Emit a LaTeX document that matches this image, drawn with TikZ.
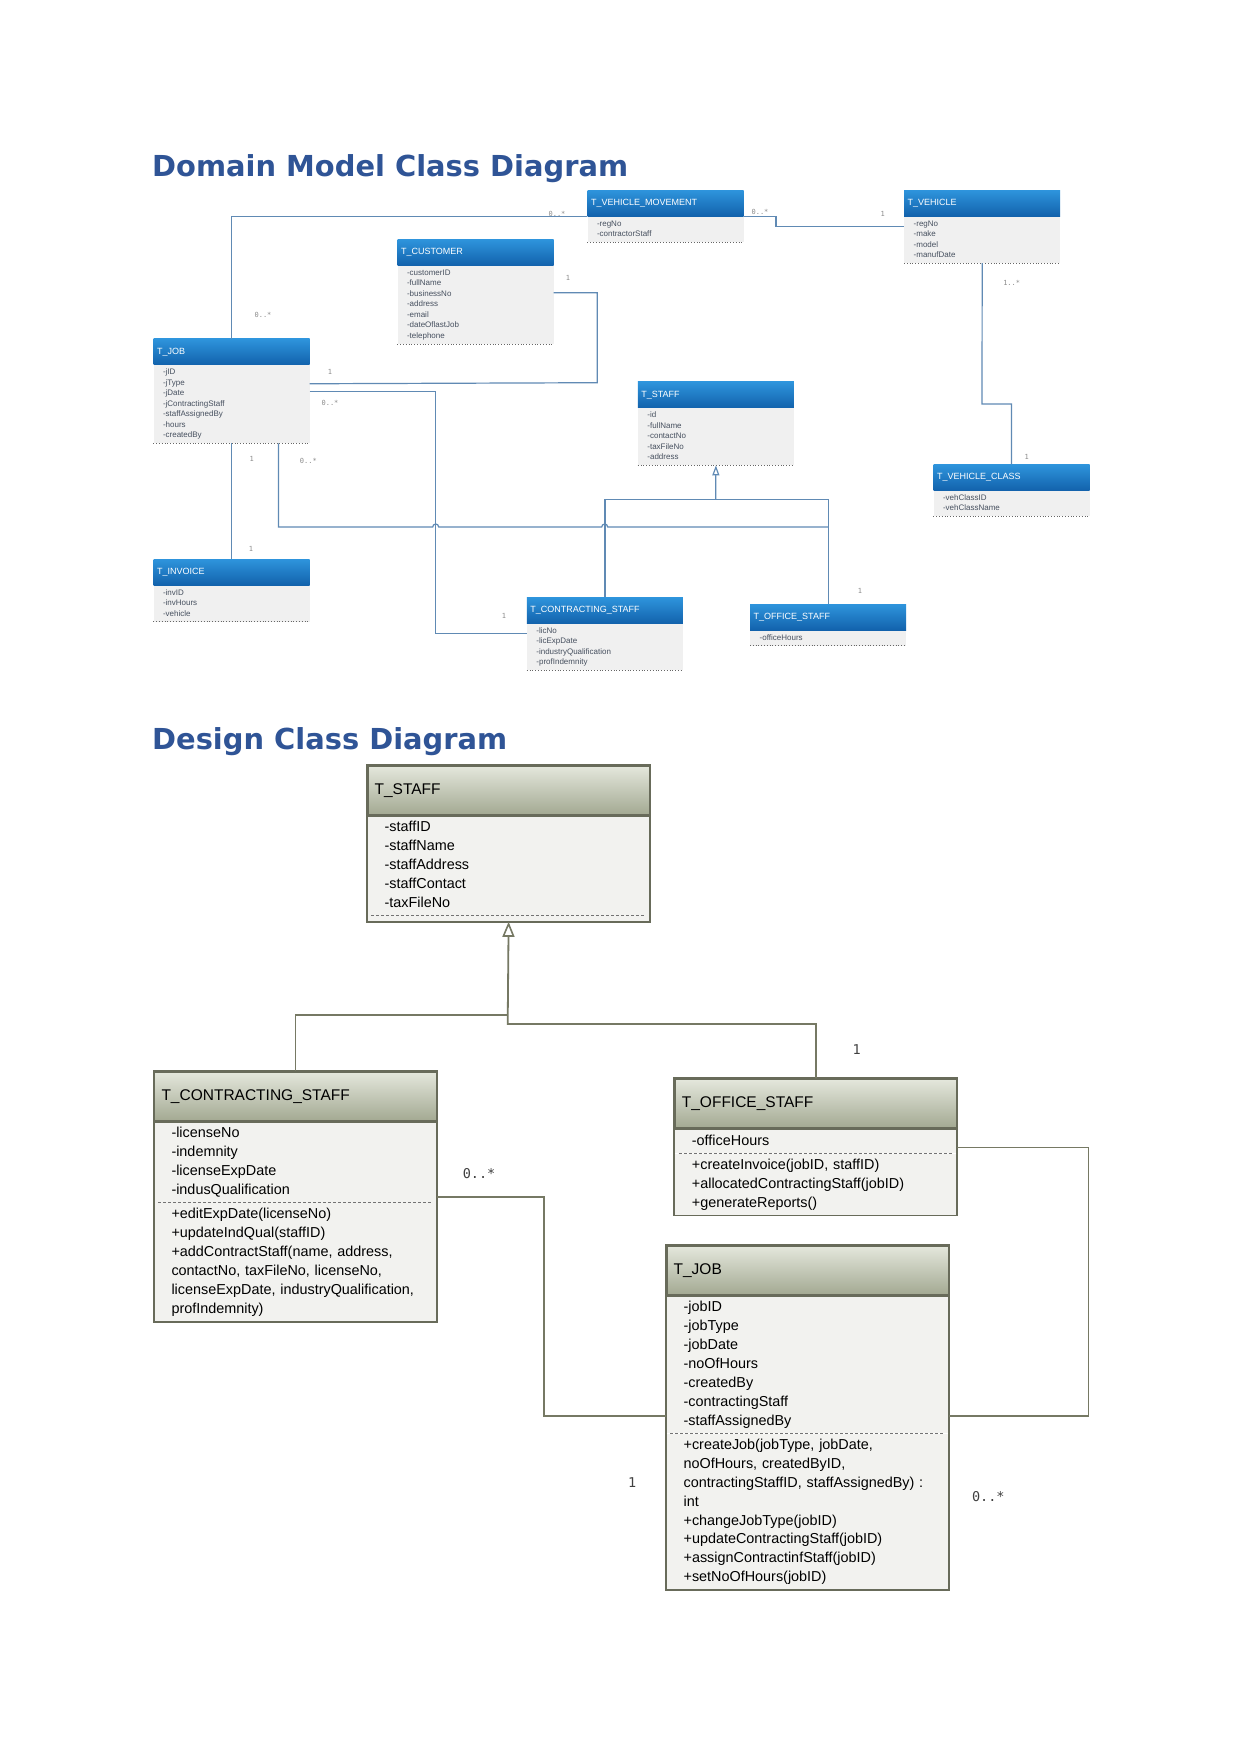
\documentclass[tikz,border=0pt]{standalone}
\usepackage{fontspec}
\setmainfont{Liberation Sans}
\newfontfamily\titlefont{DejaVu Sans}
\newfontfamily\multfont{DejaVu Sans Mono}
\usetikzlibrary{arrows.meta, positioning, calc}

\definecolor{titleblue}{RGB}{47,84,150}
\definecolor{mtop}{RGB}{46,148,220}
\definecolor{mbottom}{RGB}{18,98,172}
\definecolor{mfill}{RGB}{240,240,240}
\definecolor{mtext}{RGB}{70,80,95}
\definecolor{mlinecol}{RGB}{96,138,180}
\definecolor{mlabel}{RGB}{140,140,140}
\definecolor{dtop}{RGB}{228,231,220}
\definecolor{dbottom}{RGB}{163,169,146}
\definecolor{dfill}{RGB}{242,242,239}
\definecolor{dborder}{RGB}{104,107,90}
\definecolor{dlinecol}{RGB}{118,121,100}

\begin{document}
\begin{tikzpicture}[x=1pt, y=-1pt,
    title/.style={anchor=base west, inner sep=0pt, text=titleblue, font=\titlefont\bfseries\fontsize{28.9}{32}\selectfont},
    mhead/.style={anchor=north west, minimum height=26pt, text width=149pt, inner xsep=3.5pt, inner ysep=0pt, align=left, top color=mtop, bottom color=mbottom, text=white, font=\fontsize{9}{10}\selectfont},
    mbody/.style={text width=137pt, inner xsep=9.5pt, inner ysep=2.2pt, align=left, fill=mfill, text=mtext, font=\fontsize{8}{10.5}\selectfont, execute at begin node=\strut, execute at end node=\strut},
    mline/.style={draw=mlinecol, line width=1.2pt},
    mgen/.style={mline, -{Triangle[open, length=10pt, width=7pt]}},
    mdots/.style={draw=black!60, dotted, line width=0.8pt},
    mmult/.style={inner sep=0pt, text=mlabel, font=\multfont\fontsize{7}{8}\selectfont},
    dhead/.style={anchor=north west, minimum height=49pt, text width=268pt, inner xsep=7pt, inner ysep=0pt, align=left, top color=dtop, bottom color=dbottom, draw=dborder, line width=1.8pt, font=\fontsize{15.5}{17}\selectfont},
    dbody/.style={text width=248pt, inner xsep=17pt, inner ysep=2.5pt, align=left, fill=dfill, font=\fontsize{14.4}{18.9}\selectfont, execute at begin node=\strut, execute at end node=\strut},
    dgap/.style={minimum width=282pt, minimum height=5.7pt, inner sep=0pt, fill=dfill},
    dframe/.style={draw=dborder, line width=1.8pt},
    dline/.style={draw=dlinecol, line width=1.8pt},
    dgen/.style={dline, -{Triangle[open, length=15pt, width=12pt, line width=1.6pt]}},
    dsep/.style={draw=black!55, dash pattern=on 3pt off 2pt, line width=1pt},
    dmult/.style={inner sep=0pt, text=black!75, font=\multfont\fontsize{13.5}{15}\selectfont}
]
\useasboundingbox (0,0) rectangle (1241,1754);
\fill[white] (0,0) rectangle (1241,1754);

\node[title] (domainTitle) at (152,176.7) {Domain Model Class Diagram};
\node[title] (designTitle) at (152,749.3) {Design Class Diagram};

\node[mhead] (mVmHead) at (587.3,190) {T\_VEHICLE\_MOVEMENT};
\node[mbody, below=0pt of mVmHead] (mVm) {-regNo\\-contractorStaff};
\node[mhead] (mVehHead) at (904,190) {T\_VEHICLE};
\node[mbody, below=0pt of mVehHead] (mVeh) {-regNo\\-make\\-model\\-manufDate};
\node[mhead] (mCustHead) at (397.3,239.3) {T\_CUSTOMER};
\node[mbody, below=0pt of mCustHead] (mCust) {-customerID\\-fullName\\-businessNo\\-address\\-email\\-dateOflastJob\\-telephone};
\node[mhead] (mJobHead) at (153.3,338.7) {T\_JOB};
\node[mbody, below=0pt of mJobHead] (mJob) {-jID\\-jType\\-jDate\\-jContractingStaff\\-staffAssignedBy\\-hours\\-createdBy};
\node[mhead] (mStaffHead) at (637.7,381.7) {T\_STAFF};
\node[mbody, below=0pt of mStaffHead] (mStaff) {-id\\-fullName\\-contactNo\\-taxFileNo\\-address};
\node[mhead] (mVcHead) at (933.3,464.3) {T\_VEHICLE\_CLASS};
\node[mbody, below=0pt of mVcHead] (mVc) {-vehClassID\\-vehClassName};
\node[mhead] (mInvHead) at (153.3,559) {T\_INVOICE};
\node[mbody, below=0pt of mInvHead] (mInv) {-invID\\-invHours\\-vehicle};
\node[mhead] (mCsHead) at (526.7,597.3) {T\_CONTRACTING\_STAFF};
\node[mbody, below=0pt of mCsHead] (mCs) {-licNo\\-licExpDate\\-industryQualification\\-profIndemnity};
\node[mhead] (mOsHead) at (750,604) {T\_OFFICE\_STAFF};
\node[mbody, below=0pt of mOsHead] (mOs) {-officeHours};

\foreach \c in {mVm, mVeh, mCust, mJob, mStaff, mVc, mInv, mCs, mOs}
    \draw[mdots] (\c.south west) -- (\c.south east);

\coordinate (mVmVeh) at (776,226.7);
\coordinate (mCustJob) at (597.3,382.7);
\coordinate (mCsIn) at (435.7,633.3);
\coordinate (mHop1) at (435.7,527);
\coordinate (mHop2) at (604.7,527);
\coordinate (mGen) at (715.7,499.3);
\coordinate (mVehVc) at (982,404);

\draw[mline] (mJobHead.north) |- (mVmHead.south west);
\draw[mline] (mVmHead.south east) -| (mVmVeh) -- (mVeh.west |- mVmVeh);
\draw[mline] ([yshift=12.2pt]mCust.east) -| (mCustJob) -- ([yshift=20.5pt]mJob.east);
\draw[mline] ([yshift=12.5pt]mJob.east) -| (mCsIn) -- (mCs.west |- mCsIn);
\draw[mline] (mJob.south) -- (mInvHead.north);
\draw[mline] ([xshift=47pt]mJob.south) |- ([xshift=-3pt]mHop1) arc[start angle=180, end angle=0, radius=3pt]
    -- ([xshift=-3pt]mHop2) arc[start angle=180, end angle=0, radius=3pt] -- (mOsHead.north |- mHop1);
\draw[mline] (mCsHead.north) |- (mGen) -| (mOsHead.north);
\draw[mgen] (mGen) -- (mStaff.south);
\draw[mline] (mVeh.south) -- (mVehVc) -| (mVcHead.north);

\node[mmult] (mmJobVm) at (557,214) {0..*};
\node[mmult] (mmVmVeh) at (760,211.7) {0..*};
\node[mmult] (mmVehVm) at (882.7,214.3) {1};
\node[mmult] (mmCust) at (568,278) {1};
\node[mmult] (mmJobTop) at (263,315) {0..*};
\node[mmult] (mmJobCust) at (330,371.7) {1};
\node[mmult] (mmJobCs) at (330,403.3) {0..*};
\node[mmult] (mmJobInv) at (251.7,459) {1};
\node[mmult] (mmJobOs) at (308.3,460.7) {0..*};
\node[mmult] (mmInv) at (251,549.3) {1};
\node[mmult] (mmVehVc) at (1011.7,283.3) {1..*};
\node[mmult] (mmVc) at (1026.7,456.7) {1};
\node[mmult] (mmCs) at (504,615.7) {1};
\node[mmult] (mmOs) at (860,590.7) {1};

\node[dhead] (dStaffHead) at (366.7,765) {T\_STAFF};
\node[dbody, below=0pt of dStaffHead] (dStaffAttr) {-staffID\\-staffName\\-staffAddress\\-staffContact\\-taxFileNo};
\node[dgap, below=0pt of dStaffAttr] (dStaffOps) {};

\node[dhead] (dCsHead) at (153.6,1071) {T\_CONTRACTING\_STAFF};
\node[dbody, below=0pt of dCsHead] (dCsAttr) {-licenseNo\\-indemnity\\-licenseExpDate\\-indusQualification};
\node[dbody, below=0pt of dCsAttr] (dCsOps) {+editExpDate(licenseNo)\\+updateIndQual(staffID)\\+addContractStaff(name, address,\\contactNo, taxFileNo, licenseNo,\\licenseExpDate, industryQualification,\\profIndemnity)};

\node[dhead] (dOsHead) at (674,1078.3) {T\_OFFICE\_STAFF};
\node[dbody, below=0pt of dOsHead] (dOsAttr) {-officeHours};
\node[dbody, below=0pt of dOsAttr] (dOsOps) {+createInvoice(jobID, staffID)\\+allocatedContractingStaff(jobID)\\+generateReports()};

\node[dhead] (dJobHead) at (665.7,1245) {T\_JOB};
\node[dbody, below=0pt of dJobHead] (dJobAttr) {-jobID\\-jobType\\-jobDate\\-noOfHours\\-createdBy\\-contractingStaff\\-staffAssignedBy};
\node[dbody, below=0pt of dJobAttr] (dJobOps) {+createJob(jobType, jobDate,\\noOfHours, createdByID,\\contractingStaffID, staffAssignedBy) :\\int\\+changeJobType(jobID)\\+updateContractingStaff(jobID)\\+assignContractinfStaff(jobID)\\+setNoOfHours(jobID)};

\foreach \c in {dStaff, dCs, dOs, dJob} {
    \draw[dframe] (\c Head.north west) rectangle (\c Ops.south east) (\c Head.south west) -- (\c Head.south east);
    \draw[dsep] ([xshift=4pt]\c Attr.south west) -- ([xshift=-4pt]\c Attr.south east);
}

\coordinate (dGenL) at (507.7,1015);
\coordinate (dGenR) at (507.7,1024);
\coordinate (dCsJob) at (544.3,1416);
\coordinate (dOsJob) at (1088.5,1416);

\draw[dline] (dCsHead.north) |- (dGenL);
\draw[dgen] (dOsHead.north) |- (dGenR) -- (dStaffOps.south);
\draw[dline] ([yshift=6pt]dCsAttr.south east) -| (dCsJob) -- (dJobAttr.west |- dCsJob);
\draw[dline] ([yshift=6pt]dOsAttr.south east) -| (dOsJob) -- (dJobAttr.east |- dOsJob);

\node[dmult] (dmOs) at (856.7,1049.3) {1};
\node[dmult] (dmCs) at (479,1173.3) {0..*};
\node[dmult] (dmJobL) at (632.3,1482.7) {1};
\node[dmult] (dmJobR) at (988.3,1496.7) {0..*};

\end{tikzpicture}
\end{document}
